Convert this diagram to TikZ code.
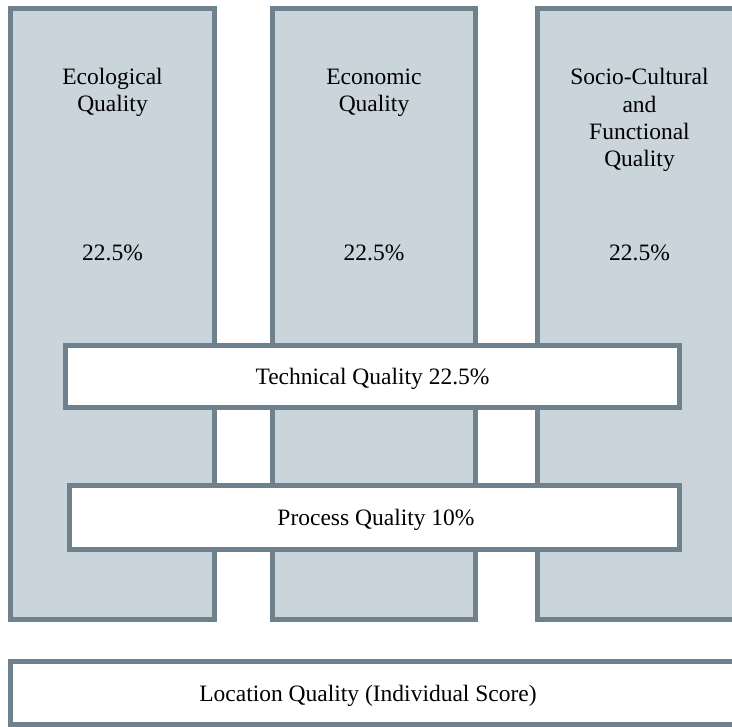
\documentclass[tikz,border=0pt]{standalone}
\usepackage{fontspec}
\setmainfont{Liberation Serif}
\definecolor{bordc}{HTML}{6E818D}
\definecolor{fillc}{HTML}{C9D4DB}
\begin{document}
\begin{tikzpicture}[x=1pt,y=-1pt,
  col/.style={draw=bordc,fill=fillc,line width=4.6pt,inner sep=0pt,outer sep=0pt,minimum width=204pt,minimum height=611pt},
  bar/.style={draw=bordc,fill=white,line width=4.6pt,inner sep=0pt,outer sep=0pt},
  lbl/.style={anchor=base,inner sep=0pt,font=\fontsize{23.5pt}{27pt}\selectfont,text=black}]
\useasboundingbox (0,0) rectangle (732,727);
% columns
\node[col] (eco) at (112.5,314) {};
\node[col,minimum width=203pt] (econ) at (374,314) {};
\node[col,minimum width=240pt] (soc) at (657.5,314) {};
% column texts
\node[lbl] (t1a) at (112.5,85) {Ecological};
\node[lbl] (t1b) at (112.5,112) {Quality};
\node[lbl] (t1c) at (112.5,261) {22.5\%};
\node[lbl] (t2a) at (374,85) {Economic};
\node[lbl] (t2b) at (374,112) {Quality};
\node[lbl] (t2c) at (374,261) {22.5\%};
\node[lbl] (t3a) at (639.5,85) {Socio-Cultural};
\node[lbl] (t3b) at (639.5,112.5) {and};
\node[lbl] (t3c) at (639.5,140) {Functional};
\node[lbl] (t3d) at (639.5,167) {Quality};
\node[lbl] (t3e) at (639.5,261) {22.5\%};
% horizontal bars
\node[bar,minimum width=614pt,minimum height=62pt] (tech) at (372.5,376.5) {};
\node[lbl] (techt) at (372.5,384.5) {Technical Quality 22.5\%};
\node[bar,minimum width=610pt,minimum height=64pt] (proc) at (374.5,517.5) {};
\node[lbl] (proct) at (376,525.5) {Process Quality 10\%};
\node[bar,minimum width=770pt,minimum height=63pt] (loc) at (395.5,693) {};
\node[lbl] (loct) at (368,701.5) {Location Quality (Individual Score)};
\end{tikzpicture}
\end{document}
